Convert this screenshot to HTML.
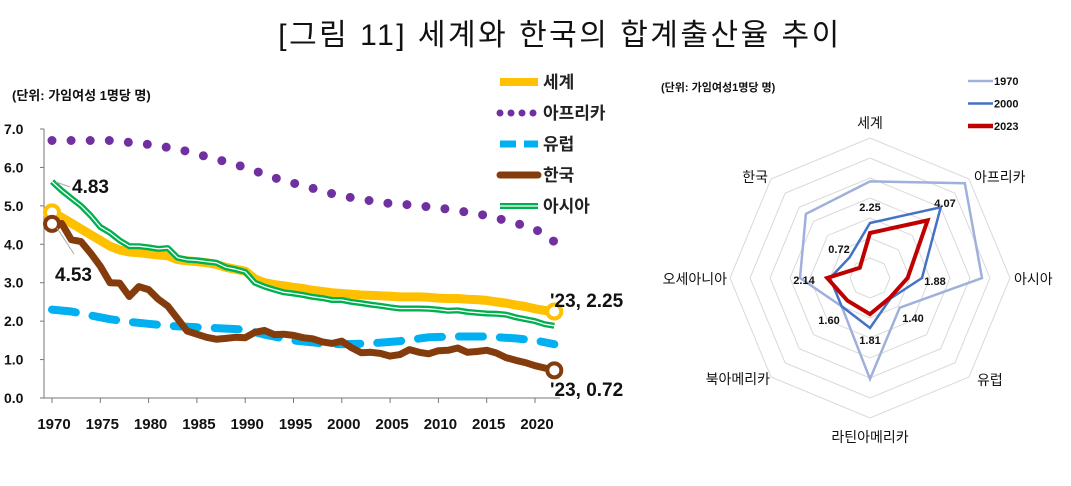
<!DOCTYPE html>
<html><head><meta charset="utf-8">
<style>
body{margin:0;background:#fff;width:1071px;height:481px;overflow:hidden;font-family:"Liberation Sans","Noto Sans CJK KR",sans-serif;}
svg text{font-family:"Liberation Sans","Noto Sans CJK KR",sans-serif;}
</style></head>
<body>
<svg id="chart" width="1071" height="481" viewBox="0 0 1071 481" xmlns="http://www.w3.org/2000/svg">
<text x="560" y="45" text-anchor="middle" font-size="30" fill="#111" letter-spacing="2.5">[그림 11] 세계와 한국의 합계출산율 추이</text>
<g id="left"></g>
<g id="right"></g>
</svg>
<script>
// ---- line chart data ----
const years = Array.from({length:53},(_, i)=>1970+i);
const worldValues=[4.83,4.7,4.55,4.4,4.25,4.1,3.95,3.85,3.8,3.78,3.75,3.72,3.7,3.6,3.57,3.55,3.52,3.48,3.4,3.35,3.3,3.1,3.0,2.95,2.92,2.88,2.85,2.8,2.77,2.74,2.72,2.7,2.68,2.67,2.66,2.65,2.63,2.63,2.63,2.62,2.6,2.59,2.59,2.57,2.56,2.54,2.5,2.47,2.42,2.38,2.32,2.28,2.25];
const asiaValues=[5.63,5.4,5.2,5.0,4.75,4.45,4.3,4.1,3.95,3.95,3.92,3.88,3.9,3.65,3.6,3.58,3.55,3.52,3.4,3.35,3.28,3.0,2.9,2.82,2.75,2.72,2.68,2.63,2.6,2.55,2.55,2.5,2.47,2.43,2.4,2.36,2.33,2.33,2.33,2.32,2.3,2.27,2.28,2.24,2.22,2.2,2.19,2.17,2.1,2.05,2.0,1.92,1.88];
const koreaValues=[4.53,4.54,4.12,4.07,3.77,3.43,3.0,2.99,2.64,2.9,2.82,2.57,2.39,2.06,1.74,1.66,1.58,1.53,1.55,1.58,1.57,1.71,1.76,1.65,1.66,1.63,1.57,1.54,1.46,1.42,1.48,1.31,1.18,1.19,1.16,1.09,1.13,1.26,1.19,1.15,1.23,1.24,1.3,1.19,1.21,1.24,1.17,1.05,0.98,0.92,0.84,0.78,0.72];
const africaYears=[1970,1972,1974,1976,1978,1980,1982,1984,1986,1988,1990,1992,1994,1996,1998,2000,2002,2004,2006,2008,2010,2012,2014,2016,2018,2020,2022];
const africaValues=[6.7,6.7,6.7,6.7,6.65,6.6,6.52,6.42,6.28,6.15,6.0,5.82,5.65,5.53,5.38,5.25,5.18,5.08,5.05,5.0,4.95,4.87,4.8,4.68,4.55,4.4,4.07];
const europeYears=[1970,1972,1974,1976,1978,1980,1982,1985,1987,1990,1992,1995,1998,2000,2003,2006,2009,2012,2015,2018,2020,2022];
const europeValues=[2.3,2.25,2.15,2.05,1.98,1.93,1.88,1.84,1.82,1.78,1.65,1.5,1.42,1.4,1.42,1.48,1.58,1.6,1.6,1.55,1.5,1.4];
const yTicks=[0,1,2,3,4,5,6,7];
const xTicks=[1970,1975,1980,1985,1990,1995,2000,2005,2010,2015,2020];
// ---- radar data ----
const radarCats=["세계","아프리카","아시아","유럽","라틴아메리카","북아메리카","오세아니아","한국"];
const r1970=[4.83,6.7,5.6,2.1,5.05,2.0,3.5,4.53];
const r2000=[2.75,5.0,2.6,1.45,2.5,2.0,2.0,1.45];
const r2023=[2.25,4.07,1.88,1.40,1.81,1.60,2.14,0.72];
const r2023Labels=["2.25","4.07","1.88","1.40","1.81","1.60","2.14","0.72"];

const NS="http://www.w3.org/2000/svg";
function mk(tag,attrs,parent,txt){const e=document.createElementNS(NS,tag);for(const k in attrs)e.setAttribute(k,attrs[k]);if(txt!==undefined)e.textContent=txt;parent.appendChild(e);return e;}
const xS=y=>52+(y-1970)*9.66;
const yS=v=>398-v*38.43;
const L=document.getElementById('left');
const unit=mk('text',{x:12,y:100,'font-size':13,'font-weight':'bold',fill:'#111'},L,'(단위: 가임여성 1명당 명)');


const ya=mk('line',{x1:44,y1:129,x2:44,y2:398,stroke:'#777','stroke-width':1},L);


const xa=mk('line',{x1:44,y1:398,x2:560,y2:398,stroke:'#777','stroke-width':1},L);


yTicks.forEach(t=>{
  mk('line',{x1:40,x2:44,y1:yS(t),y2:yS(t),stroke:'#777'},L);
  const tx=mk('text',{x:4,y:yS(t)+5,'font-size':14,'font-weight':'bold',fill:'#111'},L,t.toFixed(1));
  
  
});
xTicks.forEach(t=>{
  mk('line',{x1:xS(t),x2:xS(t),y1:398,y2:403,stroke:'#777'},L);
  const tx=mk('text',{x:xS(t)+2,y:429,'font-size':15,'font-weight':'bold','text-anchor':'middle',fill:'#111'},L,t);
  
  
});
function pts(xs,vs){return xs.map((y,i)=>xS(y).toFixed(1)+','+yS(vs[i]).toFixed(1)).join(' ');}
let p;
p=mk('polyline',{points:pts(africaYears,africaValues),fill:'none',stroke:'#7030A0','stroke-width':9,'stroke-linecap':'round','stroke-dasharray':'0 19.1'},L);


p=mk('polyline',{points:pts(europeYears,europeValues),fill:'none',stroke:'#00B0F0','stroke-width':8,'stroke-linecap':'round','stroke-dasharray':'24 17'},L);


p=mk('polyline',{points:pts(years,worldValues),fill:'none',stroke:'#FFC000','stroke-width':9,'stroke-linejoin':'round'},L);


p=mk('polyline',{points:pts(years,asiaValues),fill:'none',stroke:'#00B050','stroke-width':6,'stroke-linejoin':'round'},L);


mk('polyline',{points:pts(years,asiaValues),fill:'none',stroke:'#fff','stroke-width':1.3},L);
p=mk('polyline',{points:pts(years,koreaValues),fill:'none',stroke:'#843C0C','stroke-width':7,'stroke-linejoin':'round'},L);


[[years[0],worldValues[0],'#FFC000'],[years[years.length-1],worldValues[worldValues.length-1],'#FFC000'],[years[0],koreaValues[0],'#843C0C'],[years[years.length-1],koreaValues[koreaValues.length-1],'#843C0C']].forEach(m=>{
  const c=mk('circle',{cx:xS(m[0]),cy:yS(m[1]),r:7,fill:'#fff',stroke:m[2],'stroke-width':4},L);
  
  
});
mk('line',{x1:56,y1:182,x2:70,y2:187,stroke:'#aaa'},L);
mk('line',{x1:57,y1:228,x2:74,y2:254,stroke:'#aaa'},L);
const anns=[[72,193,'4.83'],[55,281,'4.53'],[550,307,"'23, 2.25"],[550,396,"'23, 0.72"]];
anns.forEach(a=>{
  const t=mk('text',{x:a[0],y:a[1],'font-size':19,'font-weight':'bold',fill:'#111'},L,a[2]);
  
  
});
const leg=[['세계','#FFC000',{'stroke-width':8}],['아프리카','#7030A0',{'stroke-width':7,'stroke-linecap':'round','stroke-dasharray':'0 11'}],['유럽','#00B0F0',{'stroke-width':7,'stroke-dasharray':'16 8'}],['한국','#843C0C',{'stroke-width':7,'stroke-linecap':'round'}],['아시아','#00B050',{'stroke-width':6}]];
leg.forEach((l,i)=>{
  const y=82+i*31;
  const g=mk('g',{},L);
  
  
  const a=Object.assign({x1:500,x2:538,y1:y,y2:y,stroke:l[1]},l[2]);
  mk('line',a,g);
  if(i===4)mk('line',{x1:500,x2:538,y1:y,y2:y,stroke:'#fff','stroke-width':1.3},g);
  mk('text',{x:543,y:y+6,'font-size':17,'font-weight':'bold',fill:'#222'},g,l[0]);
});
// ---- radar ----
const R=document.getElementById('right');
const cx=870,cy=278,ru=20;
const ru2=mk('text',{x:661,y:91,'font-size':11,'font-weight':'bold',fill:'#111'},R,'(단위: 가임여성1명당 명)');


const n=radarCats.length;
const ang=i=>-Math.PI/2+i*2*Math.PI/n;
const P=(i,v)=>[cx+Math.cos(ang(i))*v*ru,cy+Math.sin(ang(i))*v*ru];
for(let k=1;k<=7;k++){
  const g=mk('polygon',{points:radarCats.map((c,i)=>P(i,k).join(',')).join(' '),fill:'none',stroke:'#d9d9d9','stroke-width':1},R);
  
  
}
radarCats.forEach((c,i)=>{
  const x=[870,974,1014,977,870,770,727,768][i], y=[128,182,284,385,442,384,284,182][i];
  const t=mk('text',{x:x,y:y,'font-size':14,fill:'#111','text-anchor':i===0||i===4?'middle':(i<4?'start':'end')},R,c);
  
  
});
function poly(vals,col,w,name){
  const e=mk('polygon',{points:vals.map((v,i)=>P(i,v).map(z=>z.toFixed(1)).join(',')).join(' '),fill:'none',stroke:col,'stroke-width':w,'stroke-linejoin':'miter'},R);
  
  
}
poly(r1970,'#9FB1DB',2.5,'radar-series-1970');
poly(r2000,'#4472C4',2.5,'radar-series-2000');
poly(r2023,'#C00000',4,'radar-series-2023');
const vlPos=[[870,211],[945,207],[935,285],[913,322],[870,344],[829,324],[804,284],[839,253]];
r2023Labels.forEach((s,i)=>{
  const t=mk('text',{x:vlPos[i][0],y:vlPos[i][1],'font-size':11,'font-weight':'bold','text-anchor':'middle',fill:'#111'},R,s);
  
  
});
[['1970','#9FB1DB',2.5],['2000','#4472C4',2.5],['2023','#C00000',4.5]].forEach((l,i)=>{
  const y=81+i*22.5;
  const g=mk('g',{},R);
  
  
  mk('line',{x1:968,x2:993,y1:y,y2:y,stroke:l[1],'stroke-width':l[2]},g);
  mk('text',{x:994,y:y+4,'font-size':11,'font-weight':'bold',fill:'#111'},g,l[0]);
});
</script>
</body></html>
